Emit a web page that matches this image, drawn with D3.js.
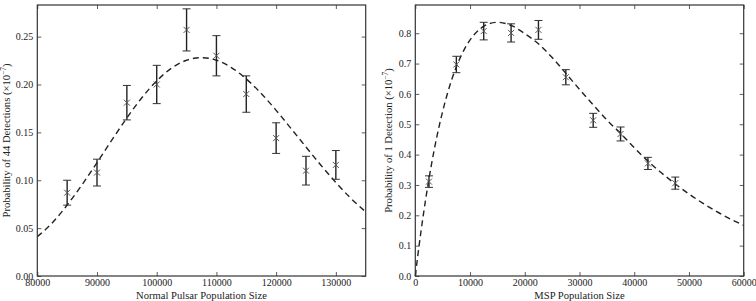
<!DOCTYPE html>
<html>
<head>
<meta charset="utf-8">
<script src="https://cdn.jsdelivr.net/npm/d3@7"></script>
<style>
  html, body { margin: 0; padding: 0; background: #fff; }
  svg { display: block; }
  text { font-family: "Liberation Serif", "DejaVu Serif", serif; fill: #222; }
</style>
</head>
<body>
<svg id="chart" width="756" height="301"></svg>
<script>
// ---------- Data ----------
// Left panel: normal pulsars
const normalN   = [85000, 90000, 95000, 100000, 105000, 110000, 115000, 120000, 125000, 130000];
const normalP   = [0.087, 0.108, 0.181, 0.200, 0.257, 0.230, 0.190, 0.144, 0.110, 0.116];
const normalErr = [0.013, 0.014, 0.018, 0.020, 0.022, 0.021, 0.019, 0.016, 0.015, 0.015];
const normalFitN = [80000, 82500, 85000, 87500, 90000, 92500, 95000, 97500, 100000, 102500, 105000,
                    107500, 110000, 112500, 115000, 117500, 120000, 122500, 125000, 127500, 130000, 132500, 135000];
const normalFitP = [0.041, 0.0554, 0.0741, 0.0954, 0.1184, 0.1421, 0.1651, 0.1861, 0.2038, 0.2171, 0.2253,
                    0.228, 0.2253, 0.2177, 0.2058, 0.1906, 0.1730, 0.1540, 0.1347, 0.1157, 0.0977, 0.0812, 0.0670];
const normalXTicks = [80000, 90000, 100000, 110000, 120000, 130000];
const normalYTicks = [0.00, 0.05, 0.10, 0.15, 0.20, 0.25];

// Right panel: MSPs
const mspN   = [2500, 7500, 12500, 17500, 22500, 27500, 32500, 37500, 42500, 47500];
const mspP   = [0.311, 0.697, 0.807, 0.801, 0.811, 0.655, 0.513, 0.468, 0.371, 0.306];
const mspErr = [0.019, 0.027, 0.029, 0.030, 0.031, 0.025, 0.023, 0.023, 0.020, 0.020];
const mspFitN = [0, 500, 1000, 1500, 2000, 3000, 4000, 5000, 6000, 7500, 9000, 10500, 12000, 13500, 15000,
                 17500, 20000, 22500, 25000, 27500, 30000, 32500, 35000, 37500, 40000, 42500, 45000,
                 47500, 50000, 52500, 55000, 57500, 60000];
const mspFitP = [0.000, 0.0733, 0.1417, 0.2056, 0.2652, 0.3721, 0.4642, 0.5428, 0.6093, 0.6892, 0.7483,
                 0.7900, 0.8169, 0.8315, 0.836, 0.8256, 0.7987, 0.7650, 0.7200, 0.6680, 0.6151, 0.5641,
                 0.5142, 0.4700, 0.4230, 0.3787, 0.3394, 0.3033, 0.2702, 0.2402, 0.2130, 0.1885, 0.1665];
const mspXTicks = [0, 10000, 20000, 30000, 40000, 50000, 60000];
const mspYTicks = [0.0, 0.1, 0.2, 0.3, 0.4, 0.5, 0.6, 0.7, 0.8];

// ---------- Layout ----------
const svg = d3.select("#chart");
const plotTop = 5, plotBottom = 276;

function panel(opts) {
  const { x0, x1, xDomain, yDomain, xTicks, yTicks, yFmt, N, P, E, fitN, fitP, xLabel, yLabel, yLabelX } = opts;
  const x = d3.scaleLinear().domain(xDomain).range([x0, x1]);
  const y = d3.scaleLinear().domain(yDomain).range([plotBottom, plotTop]);
  const g = svg.append("g");

  // axes with inward ticks
  const ax = [
    d3.axisBottom(x).tickValues(xTicks).tickFormat(d3.format("d")).tickSizeInner(-4).tickSizeOuter(0).tickPadding(3),
    d3.axisTop(x).tickValues(xTicks).tickFormat("").tickSizeInner(-4).tickSizeOuter(0),
    d3.axisLeft(y).tickValues(yTicks).tickFormat(d3.format(yFmt)).tickSizeInner(-4).tickSizeOuter(0).tickPadding(4),
    d3.axisRight(y).tickValues(yTicks).tickFormat("").tickSizeInner(-4).tickSizeOuter(0)
  ];
  const tr = [`translate(0,${plotBottom})`, `translate(0,${plotTop})`, `translate(${x0},0)`, `translate(${x1},0)`];
  ax.forEach((a, i) => {
    const ag = g.append("g").attr("transform", tr[i]).call(a);
    ag.select(".domain").remove();
    ag.selectAll(".tick line").attr("stroke", "#333").attr("stroke-width", 0.8);
    ag.selectAll(".tick text").attr("font-size", 10).attr("fill", "#222")
      .style("font-family", '"Liberation Serif", "DejaVu Serif", serif');
  });

  // fitted curve
  const line = d3.line().x((d, i) => x(fitN[i])).y(d => y(d)).curve(d3.curveMonotoneX);
  g.append("path").datum(fitP).attr("d", line)
    .attr("fill", "none").attr("stroke", "#222").attr("stroke-width", 1.4)
    .attr("stroke-dasharray", "6,4");

  // error bars
  const cap = 4, m = 3;
  const eb = g.selectAll(".eb").data(N).enter().append("g");
  eb.append("line").attr("x1", d => x(d)).attr("x2", d => x(d))
    .attr("y1", (d, i) => y(P[i] + E[i])).attr("y2", (d, i) => y(P[i] - E[i]))
    .attr("stroke", "#222").attr("stroke-width", 1.4);
  [1, -1].forEach(s => {
    eb.append("line").attr("x1", d => x(d) - cap).attr("x2", d => x(d) + cap)
      .attr("y1", (d, i) => y(P[i] + s * E[i])).attr("y2", (d, i) => y(P[i] + s * E[i]))
      .attr("stroke", "#333").attr("stroke-width", 1);
  });
  // x markers
  eb.append("path")
    .attr("d", (d, i) => {
      const cx = x(d), cy = y(P[i]);
      return `M${cx - m},${cy - m}L${cx + m},${cy + m}M${cx - m},${cy + m}L${cx + m},${cy - m}`;
    })
    .attr("stroke", "#555").attr("stroke-width", 1).attr("fill", "none");

  // frame
  g.append("rect").attr("x", x0).attr("y", plotTop).attr("width", x1 - x0).attr("height", plotBottom - plotTop)
    .attr("fill", "none").attr("stroke", "#333").attr("stroke-width", 1.2);

  // labels
  g.append("text").attr("x", (x0 + x1) / 2).attr("y", 299).attr("text-anchor", "middle")
    .attr("font-size", 10.6).text(xLabel);
  const yl = g.append("text").attr("transform", `translate(${yLabelX},${(plotTop + plotBottom) / 2}) rotate(-90)`)
    .attr("text-anchor", "middle").attr("font-size", 10.6);
  yl.append("tspan").text(yLabel + " (×10");
  yl.append("tspan").attr("dy", -4).attr("font-size", 7.5).text("−7");
  yl.append("tspan").attr("dy", 4).text(")");
}

panel({
  x0: 37.3, x1: 365.7, xDomain: [80000, 135000], yDomain: [0, 0.283],
  xTicks: normalXTicks, yTicks: normalYTicks, yFmt: ".2f",
  N: normalN, P: normalP, E: normalErr, fitN: normalFitN, fitP: normalFitP,
  xLabel: "Normal Pulsar Population Size", yLabel: "Probability of 44 Detections", yLabelX: 9.8
});
panel({
  x0: 415.3, x1: 743.7, xDomain: [0, 60000], yDomain: [0, 0.893],
  xTicks: mspXTicks, yTicks: mspYTicks, yFmt: ".1f",
  N: mspN, P: mspP, E: mspErr, fitN: mspFitN, fitP: mspFitP,
  xLabel: "MSP Population Size", yLabel: "Probability of 1 Detection", yLabelX: 391.8
});
</script>
</body>
</html>
